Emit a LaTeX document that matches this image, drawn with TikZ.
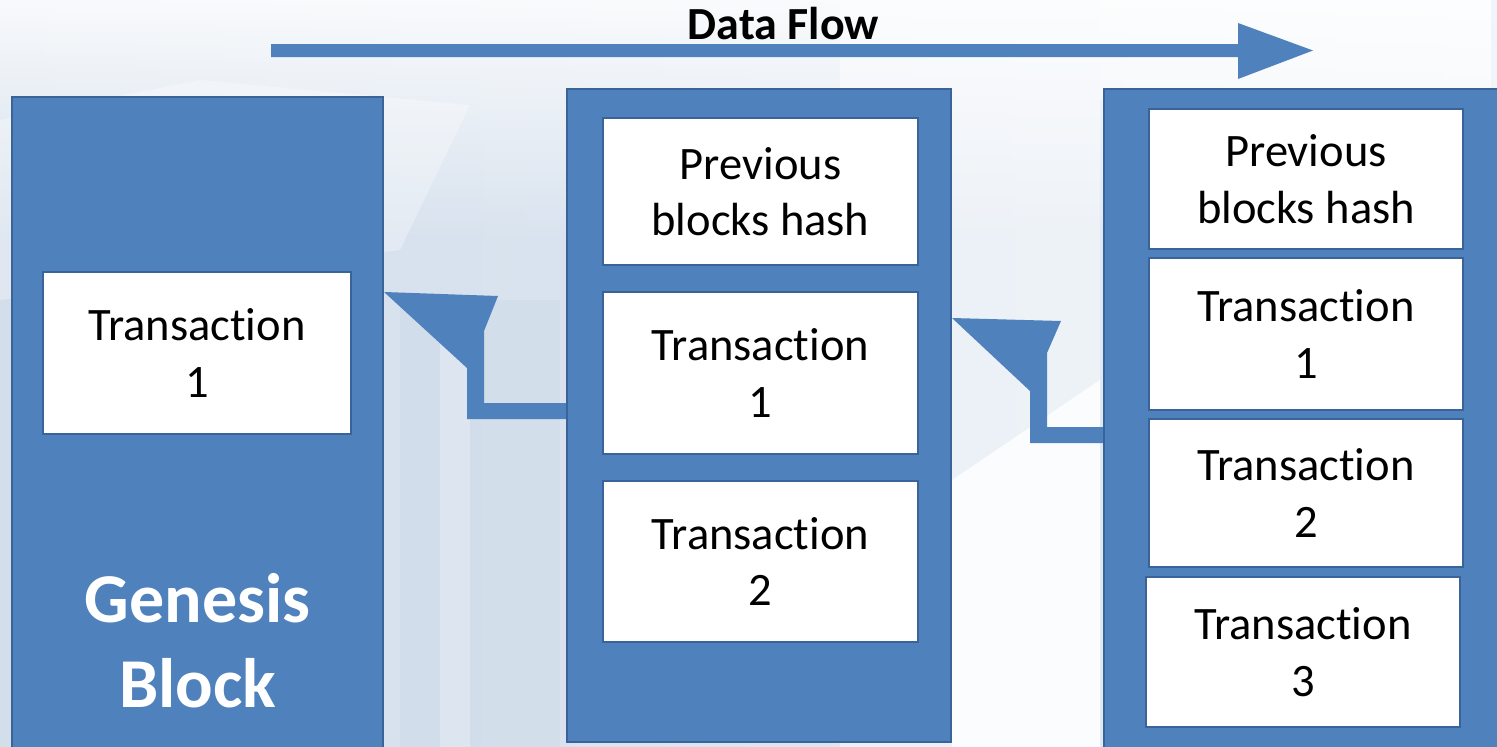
\documentclass[tikz,border=0pt]{standalone}
\usepackage{fontspec}
\setmainfont{Carlito}[Ligatures={CommonOff,RequiredOff,ContextualOff,RareOff},Contextuals=AlternateOff]
\usetikzlibrary{fadings,calc}
\definecolor{blockblue}{HTML}{4F81BD}
\definecolor{blockedge}{HTML}{3A6399}
\definecolor{bgA}{HTML}{D3DEEB}
\definecolor{bgB}{HTML}{E4ECF5}
\definecolor{bgC}{HTML}{C9D6E6}
\pgfdeclarelayer{backdrop}
\pgfdeclarelayer{links}
\pgfsetlayers{backdrop,links,main}
% keep the t and i of the word apart (no ti ligature)
\newcommand{\txword}{Transact\kern0pt ion}
\begin{document}
\begin{tikzpicture}[x=1pt,y=-1pt,
  blockbox/.style={draw=blockedge, fill=blockblue, line width=2pt, inner sep=0pt},
  cell/.style={draw=blockedge, fill=white, line width=1.8pt, inner sep=0pt,
    align=center, text=black, font=\fontsize{46.5}{56.5}\selectfont},
  genlabel/.style={align=center, text=white, font=\bfseries\fontsize{70}{85}\selectfont},
  flowlabel/.style={text=black, font=\bfseries\fontsize{46}{52}\selectfont},
  linkshape/.style={fill=blockblue}]
\useasboundingbox (0,0) rectangle (1497,747);

% soft architectural backdrop
\begin{pgfonlayer}{backdrop}
  \shade[left color=bgA, right color=bgB] (0,0) rectangle (1497,747);
  \fill[white, path fading=south, fill opacity=0.85] (0,0) rectangle (1497,240);
  \fill[white, opacity=0.3] (0,120) -- (200,80) -- (470,105) -- (400,250) -- (0,300) -- cycle;
  \fill[bgC, opacity=0.35] (400,300) rectangle (560,747);
  \fill[white, opacity=0.25] (440,330) rectangle (470,747);
  \fill[white, opacity=0.45] (840,0) rectangle (1100,747);
  \fill[white, opacity=0.8] (952,480) -- (1100,380) -- (1100,747) -- (952,747) -- cycle;
  \fill[white, opacity=0.5] (1100,0) rectangle (1497,100);
\end{pgfonlayer}

% data flow arrow
\coordinate (flowA) at (271,50.5);
\coordinate (flowB) at (1313,50.5);
\fill[linkshape] ($(flowA)+(0,-6.5)$) -- (1238,44) -- (1238,23) -- (flowB)
  -- (1238,79) -- (1238,57) -- ($(flowA)+(0,6.5)$) -- cycle;
\node[flowlabel, anchor=base] (flowlbl) at (783.5,39) {Data Flow};

% blocks
\node[blockbox, minimum width=371pt, minimum height=690pt] (gen) at (197.5,442) {};
\node[blockbox, minimum width=384pt, minimum height=653pt] (mid) at (759,415.5) {};
\node[blockbox, minimum width=400pt, minimum height=690pt] (rgt) at (1304,434) {};

% genesis block contents
\node[cell, minimum width=308pt, minimum height=162pt] (gtx1) at (197,353) {\txword\\1};
\node[genlabel] (genlbl) at (197.5,641) {Genesis\\Block};

% middle block contents
\node[cell, minimum width=315pt, minimum height=147pt] (mprev) at (760.5,191.5) {Previous\\blocks hash};
\node[cell, minimum width=315pt, minimum height=162pt] (mtx1) at (760.5,373) {\txword\\1};
\node[cell, minimum width=315pt, minimum height=161pt] (mtx2) at (760.5,561.5) {\txword\\2};

% right block contents
\node[cell, minimum width=314pt, minimum height=140pt] (rprev) at (1306,179) {Previous\\blocks hash};
\node[cell, minimum width=314pt, minimum height=152pt] (rtx1) at (1306,334) {\txword\\1};
\node[cell, minimum width=314pt, minimum height=148pt] (rtx2) at (1306,493) {\txword\\2};
\node[cell, minimum width=314pt, minimum height=150pt] (rtx3) at (1303,652) {\txword\\3};

% hash links pointing back to the previous block
\begin{pgfonlayer}{links}
  \fill[linkshape] (mid.west |- 0,403) -- (484,403) -- (484,331) -- (498,296)
    -- (gen.east |- 0,292) -- (467,368) -- (467,419) -- (mid.west |- 0,419) -- cycle;
  \fill[linkshape] (rgt.west |- 0,427) -- (1047,427) -- (1047,353) -- (1061,321)
    -- (mid.east |- 0,318) -- (1030,391) -- (1030,443) -- (rgt.west |- 0,443) -- cycle;
\end{pgfonlayer}
\end{tikzpicture}
\end{document}
